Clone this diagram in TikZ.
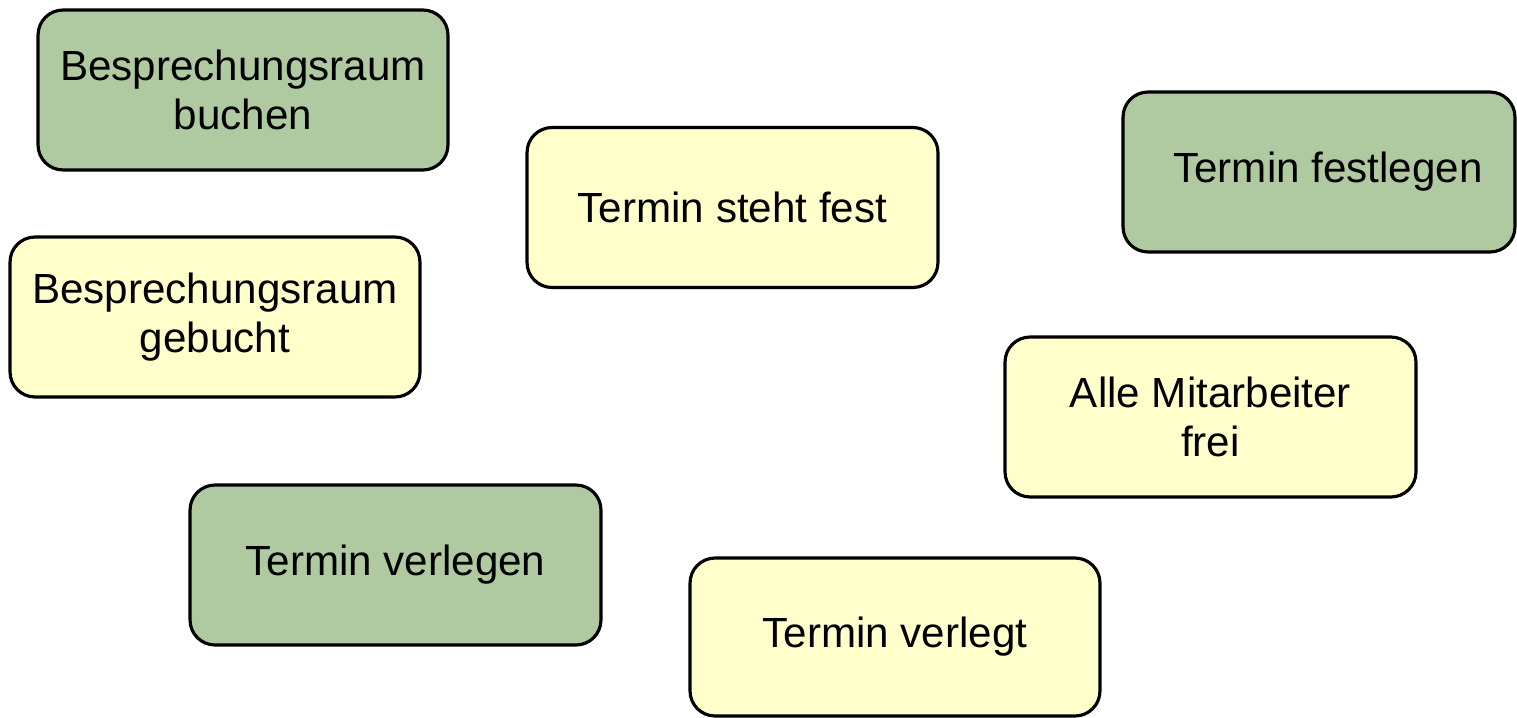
\documentclass[tikz,border=0pt]{standalone}
\usepackage{fontspec}
\setmainfont{Liberation Sans}
\definecolor{actgreen}{HTML}{AFCAA1}
\definecolor{evtyellow}{HTML}{FFFFCC}
\tikzset{
  base/.style={draw=black, line width=1.8pt, rounded corners=0.5cm, align=center,
    font=\fontsize{24}{28}\selectfont, minimum height=3.2cm, inner sep=0pt},
  activity/.style={base, fill=actgreen},
  event/.style={base, fill=evtyellow}
}
\begin{document}
\begin{tikzpicture}[x=0.02cm, y=-0.02cm]
\useasboundingbox (0,0) rectangle (1517,717);
\node[activity, minimum width=8.2cm] (buchen) at (243,90) {Besprechungsraum\\buchen};
\node[event, minimum width=8.22cm] (steht) at (732.5,207.5) {Termin steht fest};
\node[activity, minimum width=7.84cm] (festlegen) at (1319,172) {\hspace*{0.36cm}Termin festlegen};
\node[event, minimum width=8.2cm] (gebucht) at (215,317) {Besprechungsraum\\gebucht};
\node[event, minimum width=8.22cm] (frei) at (1210.5,417) {Alle Mitarbeiter\\frei};
\node[activity, minimum width=8.22cm] (verlegen) at (395.5,565) {Termin verlegen};
\node[event, minimum width=8.2cm, minimum height=3.16cm] (verlegt) at (895,637) {Termin verlegt};
\end{tikzpicture}
\end{document}
